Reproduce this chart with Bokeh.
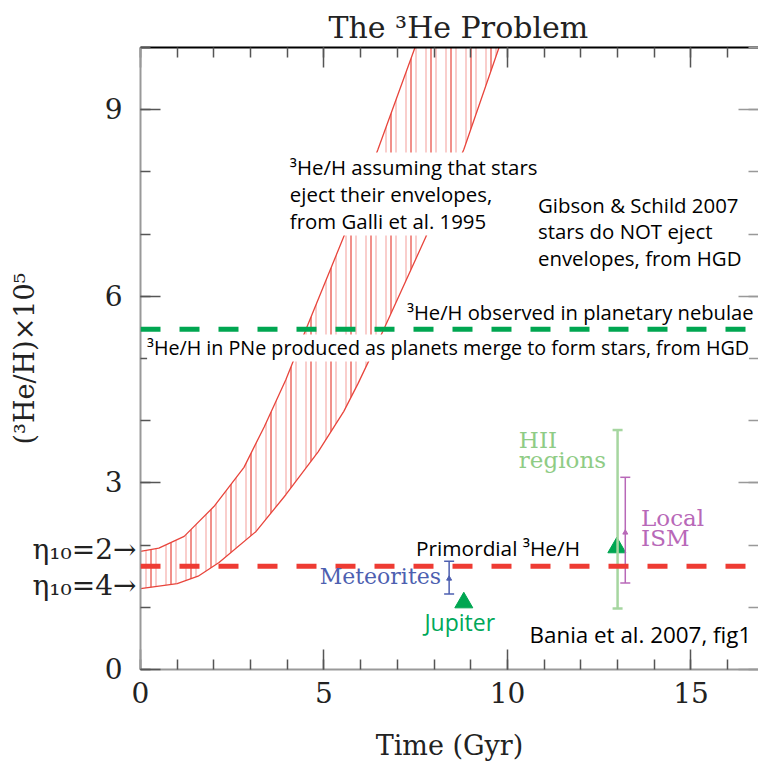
from bokeh.plotting import figure
from bokeh.models import (Span, Label, LinearAxis, SingleIntervalTicker, FixedTicker, Whisker,
                          TeeHead, ColumnDataSource, Range1d, PrintfTickFormatter,
                          CustomLabelingPolicy)
from bokeh.embed import file_html
from bokeh.resources import INLINE

# ---- data ----
time_upper = [0.0, 0.5, 1.19, 2.0, 2.82, 3.37, 3.96, 4.51, 5.54, 6.47, 7.48]
he3_upper = [1.9, 1.95, 2.14, 2.62, 3.25, 3.9, 4.66, 5.47, 6.96, 8.36, 10.0]
time_lower = [0.0, 1.0, 1.57, 2.14, 3.15, 3.96, 4.84, 5.54, 5.93, 6.63, 7.78, 8.81, 9.77]
he3_lower = [1.3, 1.38, 1.5, 1.72, 2.22, 2.81, 3.5, 4.15, 4.6, 5.47, 6.96, 8.36, 10.0]

primordial = 1.66
pne_observed = 5.47

errbar_names = ["Meteorites", "HII regions", "Local ISM"]
errbar_x = [8.41, 13.0, 13.21]
errbar_lo = [1.215, 0.98, 1.39]
errbar_hi = [1.74, 3.85, 3.09]
errbar_mid_x = [8.41, 13.21]
errbar_mid_y = [1.46, 2.2]

tri_names = ["Jupiter", "Galactic"]
tri_x = [8.81, 12.98]
tri_y = [1.075, 1.96]

y_ticks = [0, 3, 6, 9]
eta_labels = ["η₁₀=2→", "η₁₀=4→"]
eta_y = [1.93, 1.35]

SERIF = "DejaVu Serif"
SANS = "Open Sans"
INK = "#222222"

p = figure(width=758, height=763, x_range=Range1d(0, 16.84), y_range=Range1d(0, 10),
           output_backend="svg", toolbar_location=None, y_axis_location=None,
           min_border_left=140, min_border_right=0, min_border_top=47, min_border_bottom=93)
p.outline_line_color = None
p.grid.visible = False
p.background_fill_color = "white"
p.border_fill_color = "white"

p.title.text = "The ³He Problem"
p.title.text_font = SERIF
p.title.text_font_size = "30px"
p.title.text_font_style = "normal"
p.title.text_color = INK
p.title.align = "left"
p.title.offset = 188
p.title.standoff = 6


def style_axis(ax, line_color, label_size, standoff):
    ax.axis_line_color = line_color
    ax.axis_line_width = 2
    ax.major_tick_in = 20
    ax.major_tick_out = 0
    ax.minor_tick_in = 10
    ax.minor_tick_out = 0
    ax.major_tick_line_color = "#555555"
    ax.minor_tick_line_color = "#555555"
    ax.major_tick_line_width = 1.5
    ax.minor_tick_line_width = 1.5
    ax.major_label_text_font = SERIF
    ax.major_label_text_font_size = label_size
    ax.major_label_text_color = INK
    ax.major_label_standoff = standoff


def ticks_only(ax):
    # axis that shows only tick marks: no labels are drawn
    ax.major_label_policy = CustomLabelingPolicy(code="return []")


# bottom axis
xax = p.xaxis[0]
xax.ticker = SingleIntervalTicker(interval=5, num_minor_ticks=5)
style_axis(xax, "#999999", "28px", 12)
xax.axis_label = "Time (Gyr)"
xax.axis_label_text_font = SERIF
xax.axis_label_text_font_size = "27px"
xax.axis_label_text_font_style = "normal"
xax.axis_label_text_color = INK
xax.axis_label_standoff = 24

# left axis: tick marks (innermost)
yax = LinearAxis(ticker=SingleIntervalTicker(interval=3, num_minor_ticks=3))
style_axis(yax, "#999999", "0px", 0)
ticks_only(yax)
p.add_layout(yax, "left")

# left axis: labels (numbers and eta markers)
ylab = LinearAxis(ticker=FixedTicker(ticks=y_ticks + eta_y, minor_ticks=[]),
                  formatter=PrintfTickFormatter(format="%d\u2002"),
                  major_label_overrides={v: t for v, t in zip(eta_y, eta_labels)})
style_axis(ylab, None, "28px", 4)
ylab.major_tick_in = 0
ylab.minor_tick_in = 0
ylab.major_tick_line_color = None
ylab.minor_tick_line_color = None
ylab.axis_label = "(³He/H)×10⁵"
ylab.axis_label_text_font = SERIF
ylab.axis_label_text_font_size = "27px"
ylab.axis_label_text_font_style = "normal"
ylab.axis_label_text_color = INK
ylab.axis_label_standoff = -10
p.add_layout(ylab, "left")

top = LinearAxis(ticker=SingleIntervalTicker(interval=5, num_minor_ticks=5))
style_axis(top, "black", "0px", 0)
ticks_only(top)
p.add_layout(top, "above")
right = LinearAxis(ticker=SingleIntervalTicker(interval=3, num_minor_ticks=3))
style_axis(right, None, "0px", 0)
right.major_tick_line_color = "#999999"
right.minor_tick_line_color = "#999999"
ticks_only(right)
p.add_layout(right, "right")

# ---- Galli et al. band ----
band_x = time_upper + time_lower[::-1]
band_y = he3_upper + he3_lower[::-1]
p.patch(band_x, band_y, fill_alpha=0, line_alpha=0,
        hatch_pattern="vertical_line", hatch_scale=10, hatch_color="#e8453c",
        hatch_alpha=0.35, hatch_weight=1.5)
p.patch(band_x, band_y, fill_alpha=0, line_alpha=0,
        hatch_pattern="vertical_line", hatch_scale=20, hatch_color="#e8453c",
        hatch_alpha=0.8, hatch_weight=1.5)
p.line(time_upper, he3_upper, line_color="#e8453c", line_width=1.3)
p.line(time_lower, he3_lower, line_color="#e8453c", line_width=1.3)

# ---- error bars ----
colors_err = ["#4d5fb0", "#a6d6a0", "#b868b8"]
widths_err = [1.5, 2.5, 1.5]
for i in range(3):
    src = ColumnDataSource(dict(x=[errbar_x[i]], lo=[errbar_lo[i]], hi=[errbar_hi[i]]))
    w = Whisker(source=src, base="x", upper="hi", lower="lo", dimension="height",
                line_color=colors_err[i], line_width=widths_err[i],
                upper_head=TeeHead(size=10, line_color=colors_err[i], line_width=widths_err[i]),
                lower_head=TeeHead(size=10, line_color=colors_err[i], line_width=widths_err[i]))
    w.level = "glyph"
    p.add_layout(w)
p.scatter(errbar_mid_x, errbar_mid_y, marker="triangle", size=5,
          color=[colors_err[0], colors_err[2]])

p.scatter(tri_x, tri_y, marker="triangle", size=18, color="#00a651")

# ---- horizontal reference lines ----
p.add_layout(Span(location=primordial, dimension="width", line_color="#ee3b33",
                  line_width=5, line_dash="20 19"))
p.add_layout(Span(location=pne_observed, dimension="width", line_color="#00a651",
                  line_width=5, line_dash="20 19"))


# ---- texts inside the plot ----
def lab(x, y, text, font=SANS, size="20.4px", color="black", align="left",
        baseline="middle", bg=None, lh=1.0):
    L = Label(x=x, y=y, text=text, text_font=font, text_font_size=size,
              text_color=color, text_align=align, text_baseline=baseline,
              text_line_height=lh)
    if bg:
        L.background_fill_color = bg
        L.background_fill_alpha = 1.0
    p.add_layout(L)


lab(4.07, 8.31, "³He/H assuming that stars\neject their envelopes,\nfrom Galli et al. 1995",
    baseline="top", bg="white", lh=0.98)
lab(10.83, 7.70, "Gibson & Schild 2007\nstars do NOT eject\nenvelopes, from HGD",
    baseline="top", lh=0.96)
lab(7.26, 5.75, "³He/H observed in planetary nebulae", size="20.2px")
lab(0.18, 5.17, "³He/H in PNe produced as planets merge to form stars, from HGD",
    size="19.7px", bg="white")
lab(7.51, 1.96, "Primordial ³He/H", size="20.8px")
lab(8.19, 1.49, "Meteorites", font=SERIF, size="22px", color="#4d5fb0", align="right")
lab(8.7, 0.77, "Jupiter", size="23px", color="#00a859", align="center")
lab(10.31, 3.9, "HII\nregions", font=SERIF, size="23px", color="#8fcc85",
    baseline="top", lh=0.78)
lab(13.64, 2.65, "Local\nISM", font=SERIF, size="23px", color="#b868b8",
    baseline="top", lh=0.78)
lab(10.6, 0.56, "Bania et al. 2007, fig1", size="22.4px")

open("out.html", "w").write(file_html(p, INLINE))
